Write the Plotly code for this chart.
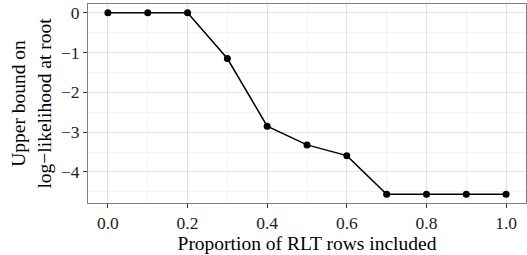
import plotly.graph_objects as go

proportion = [0.0, 0.1, 0.2, 0.3, 0.4, 0.5, 0.6, 0.7, 0.8, 0.9, 1.0]
upper_bound = [0.0, 0.0, 0.0, -1.15, -2.85, -3.32, -3.59, -4.56, -4.56, -4.56, -4.56]
x_ticks = [0.0, 0.2, 0.4, 0.6, 0.8, 1.0]
y_ticks = [0, -1, -2, -3, -4]

font_family = "Liberation Serif"

fig = go.Figure()
fig.add_trace(go.Scatter(
    x=proportion, y=upper_bound, mode="lines+markers",
    line=dict(color="black", width=1.5),
    marker=dict(color="black", size=7),
    showlegend=False,
))

axis_common = dict(
    showline=True, linecolor="#7f7f7f", linewidth=1, mirror=True,
    ticks="outside", ticklen=4, tickcolor="#333333", tickwidth=1,
    showgrid=True, gridcolor="#e3e3e3", gridwidth=1, zeroline=False,
    tickfont=dict(family=font_family, size=17.5, color="#222222"),
    automargin=False,
)

fig.update_xaxes(
    **axis_common,
    range=[-0.05, 1.05], tickvals=x_ticks, tickformat=".1f",
    minor=dict(dtick=0.1, tick0=0.1, showgrid=True, gridcolor="#f3f3f3", ticks=""),
    title=dict(text="Proportion of RLT rows included",
               font=dict(family=font_family, size=19.5, color="black"), standoff=0),
)
fig.update_yaxes(
    **axis_common,
    range=[-4.78, 0.22], tickvals=y_ticks,
    minor=dict(dtick=0.5, tick0=0.5, showgrid=True, gridcolor="#f3f3f3", ticks=""),
    title=dict(text="Upper bound on<br>log\u2212likelihood at root",
               font=dict(family=font_family, size=19.5, color="black"), standoff=4),
)

fig.update_layout(
    width=527, height=255,
    margin=dict(l=88, r=1, t=4, b=52),
    paper_bgcolor="white", plot_bgcolor="white",
    font=dict(family=font_family),
)

fig.write_html(
    "out.html",
    config={"displayModeBar": False},
    post_script="document.body.style.margin='0';document.body.style.overflow='hidden';",
)
